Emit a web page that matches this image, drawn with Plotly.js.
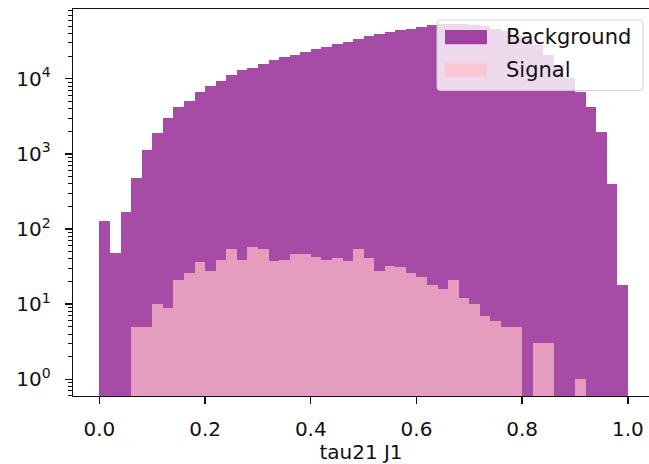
<!DOCTYPE html>
<html>
<head>
<meta charset="utf-8">
<script src="https://cdn.plot.ly/plotly-3.0.1.min.js"></script>
<style>
  html, body { margin: 0; padding: 0; background: #ffffff; overflow: hidden; }
  #chart { width: 649px; height: 464px; }
</style>
</head>
<body>
<div id="chart"></div>
<script>
// Histogram of tau21 for the leading jet: 50 bins of width 0.02 on [0, 1]
const binEdges = [
  0.00, 0.02, 0.04, 0.06, 0.08, 0.10, 0.12, 0.14, 0.16, 0.18,
  0.20, 0.22, 0.24, 0.26, 0.28, 0.30, 0.32, 0.34, 0.36, 0.38,
  0.40, 0.42, 0.44, 0.46, 0.48, 0.50, 0.52, 0.54, 0.56, 0.58,
  0.60, 0.62, 0.64, 0.66, 0.68, 0.70, 0.72, 0.74, 0.76, 0.78,
  0.80, 0.82, 0.84, 0.86, 0.88, 0.90, 0.92, 0.94, 0.96, 0.98, 1.00
];

const backgroundCounts = [
  128, 48, 167, 475, 1120, 1900, 3010, 4190, 5130, 6700,
  8050, 9300, 11170, 12880, 13700, 15700, 17870, 19200, 20400, 23000,
  24800, 26400, 28900, 30400, 33700, 36500, 39600, 42100, 44800, 46200,
  48600, 51700, 53000, 54000, 54000, 52500, 50000, 46500, 43000, 38500,
  34000, 28000, 21000, 15300, 10300, 6700, 4265, 1980, 398, 18
];

const signalCounts = [
  0, 0, 0, 5, 5, 10, 9, 21, 26, 36,
  28, 39, 54, 39, 57, 54, 37, 39, 47, 46,
  42, 39, 41, 37, 54, 41, 28, 32, 31, 26,
  23, 18, 16, 21, 12, 10, 7, 6, 5, 5,
  0, 3, 3, 0, 0, 1, 0, 0, 0, 0
];

const seriesNames = ['Background', 'Signal'];
const xTickVals = [0.0, 0.2, 0.4, 0.6, 0.8, 1.0];
const yTickVals = [1, 10, 100, 1000, 10000];
const yTickText = ['10<sup>0</sup>', '10<sup>1</sup>', '10<sup>2</sup>', '10<sup>3</sup>', '10<sup>4</sup>'];
const xTitle = 'tau21 J1';

const bgColor = 'rgba(128,0,128,0.7)';
const sigColor = 'rgba(255,192,203,0.7)';
const FONT = 'DejaVu Sans, sans-serif';

// bin centres and widths from the edges
const centers = [], widths = [];
for (let i = 0; i < binEdges.length - 1; i++) {
  centers.push((binEdges[i] + binEdges[i + 1]) / 2);
  widths.push(binEdges[i + 1] - binEdges[i]);
}
const nz = arr => arr.map(v => (v > 0 ? v : null));

// minor ticks on the log axis: 2..9 times each decade
const yMinor = [];
for (let d = -1; d <= 4; d++) {
  for (let m = 2; m <= 9; m++) yMinor.push(m * Math.pow(10, d));
}

const traces = [
  { type: 'bar', name: seriesNames[0], x: centers, y: nz(backgroundCounts), width: widths,
    marker: { color: bgColor, line: { width: 0 } }, showlegend: false, hoverinfo: 'x+y' },
  { type: 'bar', name: seriesNames[1], x: centers, y: nz(signalCounts), width: widths,
    marker: { color: sigColor, line: { width: 0 } }, showlegend: false, hoverinfo: 'x+y' }
];

// plot-area geometry in page pixels, used to place the legend box
const W = 649, H = 464;
const M = { l: 73, r: 0, t: 9, b: 68 };
const PW = W - M.l - M.r, PH = H - M.t - M.b;
const px = x => (x - M.l) / PW;
const py = y => (H - M.b - y) / PH;

function roundRect(x0, y0, x1, y1, r) {
  const rx = r / PW, ry = r / PH;
  const X0 = px(x0), X1 = px(x1), Y0 = py(y0), Y1 = py(y1); // Y0 top, Y1 bottom
  return `M${X0 + rx},${Y0} L${X1 - rx},${Y0} Q${X1},${Y0} ${X1},${Y0 - ry} ` +
         `L${X1},${Y1 + ry} Q${X1},${Y1} ${X1 - rx},${Y1} ` +
         `L${X0 + rx},${Y1} Q${X0},${Y1} ${X0},${Y1 + ry} ` +
         `L${X0},${Y0 - ry} Q${X0},${Y0} ${X0 + rx},${Y0} Z`;
}

const legendShapes = [
  { type: 'path', xref: 'paper', yref: 'paper', layer: 'above',
    path: roundRect(437, 20, 643, 90.5, 4),
    fillcolor: 'rgba(255,255,255,0.8)', line: { color: 'rgba(204,204,204,0.8)', width: 1.2 } },
  { type: 'rect', xref: 'paper', yref: 'paper', layer: 'above',
    x0: px(445), x1: px(487), y0: py(44.3), y1: py(30),
    fillcolor: bgColor, line: { width: 0 } },
  { type: 'rect', xref: 'paper', yref: 'paper', layer: 'above',
    x0: px(445), x1: px(487), y0: py(76.7), y1: py(63.3),
    fillcolor: sigColor, line: { width: 0 } }
];

const legendFont = { family: FONT, size: 21, color: '#111' };
const legendLabels = [
  { text: seriesNames[0], x: px(503.5), y: py(37), xref: 'paper', yref: 'paper',
    xanchor: 'left', yanchor: 'middle', showarrow: false, font: legendFont },
  { text: seriesNames[1], x: px(503.5), y: py(70), xref: 'paper', yref: 'paper',
    xanchor: 'left', yanchor: 'middle', showarrow: false, font: legendFont }
];

const layout = {
  width: W, height: H,
  margin: M,
  paper_bgcolor: '#ffffff', plot_bgcolor: '#ffffff',
  font: { family: FONT, size: 20, color: '#111' },
  barmode: 'overlay', bargap: 0,
  showlegend: false,
  xaxis: {
    range: [-0.05, 1.04],
    tickvals: xTickVals, tickformat: '.1f',
    ticks: 'outside', ticklen: 7, tickwidth: 1.4, tickcolor: '#111',
    ticklabelstandoff: 8,
    showline: true, linecolor: '#111', linewidth: 1.4, mirror: true,
    showgrid: false, zeroline: false,
    tickfont: { family: FONT, size: 20, color: '#111' },
    title: { text: xTitle, font: { family: FONT, size: 20, color: '#111' }, standoff: 3 }
  },
  yaxis: {
    type: 'log',
    range: [-0.222, 4.928],
    tickmode: 'array', tickvals: yTickVals, ticktext: yTickText,
    ticks: 'outside', ticklen: 7, tickwidth: 1.4, tickcolor: '#111',
    ticklabelstandoff: 10,
    minor: { tickmode: 'array', tickvals: yMinor, ticks: 'outside', ticklen: 4, tickwidth: 1, tickcolor: '#111', showgrid: false },
    showline: true, linecolor: '#111', linewidth: 1.4, mirror: false,
    showgrid: false, zeroline: false,
    tickfont: { family: FONT, size: 20, color: '#111' }
  },
  shapes: legendShapes,
  annotations: legendLabels
};

Plotly.newPlot('chart', traces, layout, { staticPlot: true, displayModeBar: false });
</script>
</body>
</html>
